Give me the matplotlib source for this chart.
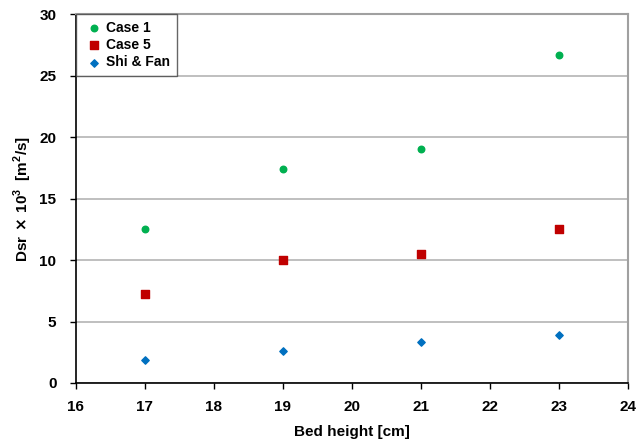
import matplotlib
matplotlib.use("Agg")
import matplotlib.pyplot as plt

plt.rcParams['font.family'] = ['Liberation Sans', 'DejaVu Sans']
plt.rcParams['font.weight'] = 'bold'

# bed heights and Dsr values
bed_height = [17, 19, 21, 23]
case1 = [12.5, 17.4, 19.0, 26.7]
case5 = [7.2, 10.0, 10.5, 12.5]
shi_fan = [1.9, 2.6, 3.3, 3.9]

fig = plt.figure(figsize=(6.38, 4.42), dpi=100)
ax = fig.add_axes([0.119, 0.1335, 0.865, 0.8345])

ax.set_xlim(16, 24)
ax.set_ylim(0, 30)
ax.set_xticks(range(16, 25))
ax.set_yticks(range(0, 31, 5))
ax.yaxis.grid(True, color='#b4b4b4', linewidth=1.2)
ax.set_axisbelow(True)

ax.scatter(bed_height, case1, marker='o', s=22, color='#00b050', label='Case 1', zorder=3)
ax.scatter(bed_height, case5, marker='s', s=26, color='#c00000', label='Case 5', zorder=3)
ax.scatter(bed_height, shi_fan, marker='D', s=14, color='#0070c0', label='Shi & Fan', zorder=3)

for side in ['top', 'right']:
    ax.spines[side].set_color('#a0a0a0')
    ax.spines[side].set_linewidth(1.5)
for side in ['left', 'bottom']:
    ax.spines[side].set_color('black')
    ax.spines[side].set_linewidth(1.2)

ax.tick_params(direction='out', length=4, width=1, labelsize=11)
ax.tick_params(axis='x', pad=8)
ax.tick_params(axis='y', pad=10)
for lbl in ax.get_xticklabels() + ax.get_yticklabels():
    lbl.set_fontweight('bold')

ax.set_xlabel('Bed height [cm]', fontsize=11, fontweight='bold', labelpad=8)
ax.set_ylabel(r'Dsr$\,\times\,$10$^{\mathregular{3}}$  [m$^{\mathregular{2}}$/s]', fontsize=11,
              fontweight='bold', labelpad=4)

leg = ax.legend(loc='upper left', bbox_to_anchor=(0.0, 1.0), fontsize=10, frameon=True,
                fancybox=False, edgecolor='#404040', handletextpad=0.1, borderpad=0.5,
                labelspacing=0.22, handlelength=1.6, borderaxespad=0.0)
leg.get_frame().set_linewidth(1.0)
for t in leg.get_texts():
    t.set_fontweight('bold')

fig.savefig('out.png', dpi=100)
